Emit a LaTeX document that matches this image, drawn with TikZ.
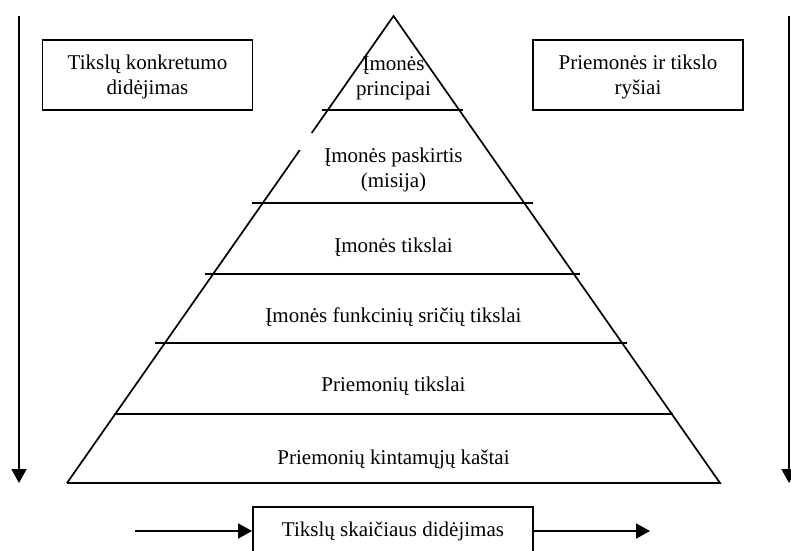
\documentclass[tikz,border=0pt]{standalone}
\usepackage{fontspec}
\setmainfont{Liberation Serif}
\usetikzlibrary{arrows.meta,calc}
\begin{document}
\begin{tikzpicture}[x=1pt,y=-1pt,
  line width=1.7pt,
  txt/.style={font=\fontsize{21}{25}\selectfont, align=center, inner sep=0pt},
  labelbox/.style={draw, line width=1.9pt, minimum width=210pt, minimum height=70pt},
  arr/.style={-{Triangle[length=14pt,width=15pt]}, line width=1.7pt}]
  \useasboundingbox (0,0) rectangle (791,550);
  \clip (0,0) rectangle (791,550);

  % pyramid corners
  \coordinate (apex) at (393.5,16);
  \coordinate (bl) at (67,483);
  \coordinate (br) at (720,483);

  % pyramid outline (left side interrupted near the second tier)
  \draw (bl) -- (br) -- (apex) -- ($(apex)!0.2505!(bl)$);
  \draw ($(apex)!0.287!(bl)$) -- (bl);

  % tier dividers
  \coordinate (d1l) at (322,110); \coordinate (d1r) at (463,110);
  \coordinate (d2l) at (252,203); \coordinate (d2r) at (533,203);
  \coordinate (d3l) at (205,274); \coordinate (d3r) at (580,274);
  \coordinate (d4l) at (155,343); \coordinate (d4r) at (627,343);
  \coordinate (d5l) at (114,414); \coordinate (d5r) at (673,414);
  \draw (d1l) -- (d1r);
  \draw (d2l) -- (d2r);
  \draw (d3l) -- (d3r);
  \draw (d4l) -- (d4r);
  \draw (d5l) -- (d5r);

  % tier labels
  \node[txt] (t1) at (393.5,78) {Įmonės\\principai};
  \node[txt] (t2) at (393.5,170) {Įmonės paskirtis\\(misija)};
  \node[txt] (t3) at (393.5,247) {Įmonės tikslai};
  \node[txt] (t4) at (393.5,317) {Įmonės funkcinių sričių tikslai};
  \node[txt] (t5) at (393.5,386) {Priemonių tikslai};
  \node[txt] (t6) at (393.5,459) {Priemonių kintamųjų kaštai};

  % side boxes
  \node[labelbox] (lbox) at (147.5,75) {};
  \node[txt] (ltext) at (147.5,77) {Tikslų konkretumo\\didėjimas};
  \node[labelbox] (rbox) at (638,75) {};
  \node[txt] (rtext) at (638,77) {Priemonės ir tikslo\\ryšiai};

  % vertical arrows
  \coordinate (lt) at (19,16);  \coordinate (lb) at (19,483);
  \coordinate (rt) at (789,16); \coordinate (rb) at (789,483);
  \draw[arr] (lt) -- (lb);
  \draw[arr] (rt) -- (rb);

  % bottom box with horizontal arrows
  \node[labelbox, minimum width=280pt, minimum height=48pt] (bbox) at (393,531) {};
  \node[txt] (btext) at (393,531) {Tikslų skaičiaus didėjimas};
  \coordinate (hs) at (135,531);
  \coordinate (he) at (650,531);
  \draw[arr] (hs) -- (bbox.west);
  \draw[arr] (bbox.east) -- (he);
\end{tikzpicture}
\end{document}
